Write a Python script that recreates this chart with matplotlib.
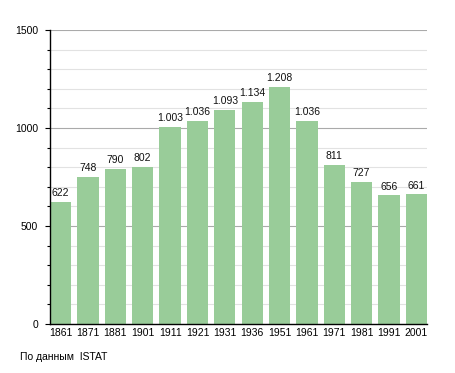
import matplotlib
matplotlib.use("Agg")
import matplotlib.pyplot as plt
from matplotlib.ticker import MultipleLocator

years = ["1861", "1871", "1881", "1901", "1911", "1921", "1931", "1936",
         "1951", "1961", "1971", "1981", "1991", "2001"]
population = [622, 748, 790, 802, 1003, 1036, 1093, 1134, 1208, 1036, 811, 727, 656, 661]
y_ticks = [0, 500, 1000, 1500]
source_text = "По данным  ISTAT"

plt.rcParams['font.family'] = ['Liberation Sans', 'DejaVu Sans']

fig = plt.figure(figsize=(4.55, 3.73), dpi=100)
ax = fig.add_axes([50/455, 1-324/373, 377/455, 294/373])

w = 0.78
x = list(range(len(years)))
ax.bar(x, population, width=w, color='#99cc99', zorder=2)
ax.set_xlim(-w/2, len(years)-1 + w/2)
ax.set_ylim(0, 1500)

def fmt(v):
    return f"{v:,}".replace(",", ".")

for xi, v in zip(x, population):
    ax.text(xi, v + 20, fmt(v), ha='center', va='bottom', fontsize=7.5, color='#111111')

ax.set_yticks(y_ticks)
ax.set_yticklabels([str(t) for t in y_ticks], fontsize=7.5)
ax.yaxis.set_minor_locator(MultipleLocator(100))
ax.set_xticks(x)
ax.set_xticklabels(years, fontsize=7.5)
ax.tick_params(axis='x', length=0, pad=3)
ax.tick_params(axis='y', which='major', length=3.6, width=0.8, pad=5)
ax.tick_params(axis='y', which='minor', length=2.2, width=0.8)

ax.grid(axis='y', which='major', color='#aaaaaa', linewidth=0.8, zorder=0)
ax.grid(axis='y', which='minor', color='#e2e2e2', linewidth=0.8, zorder=0)
ax.set_axisbelow(True)

for s in ['top', 'right']:
    ax.spines[s].set_visible(False)
ax.spines['left'].set_linewidth(1.0)
ax.spines['bottom'].set_linewidth(1.0)

fig.text(20/455, 1-357/373, source_text, fontsize=7.5, va='center', ha='left')

fig.savefig("out.png", dpi=100)
